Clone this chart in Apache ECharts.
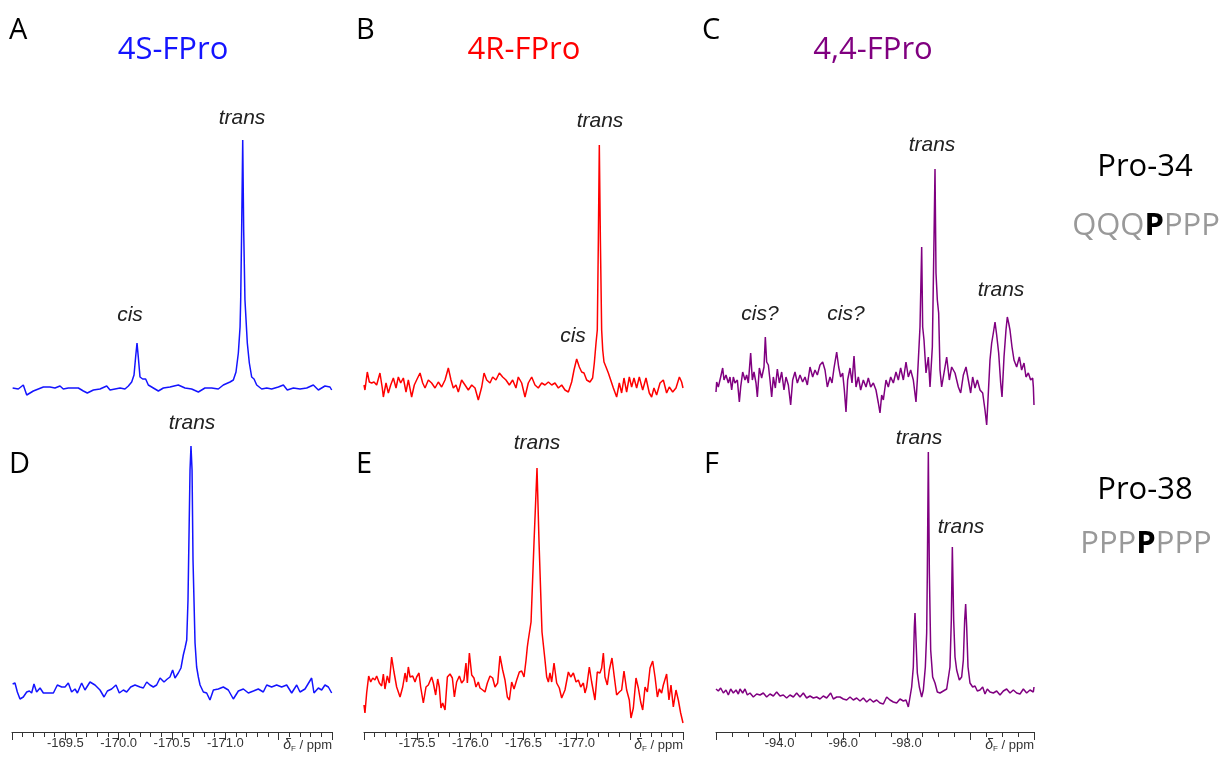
<!DOCTYPE html>
<html><head><meta charset="utf-8">
<script src="https://cdn.jsdelivr.net/npm/echarts@6/dist/echarts.min.js"></script>
<style>html,body{margin:0;padding:0;background:#fff}#c{width:1222px;height:758px}</style>
</head><body><div id="c"></div>
<script>
// ---- data: [chemical shift (ppm), intensity (arb. units)] ----
const specA = [[-169.006,2],[-169.059,1],[-169.106,5],[-169.138,-5],[-169.169,-3],[-169.2,-1],[-169.247,1],[-169.294,3],[-169.356,3],[-169.403,2],[-169.45,4],[-169.481,1],[-169.528,2],[-169.575,2],[-169.622,2],[-169.669,-1],[-169.706,-3],[-169.763,0],[-169.825,1],[-169.888,4],[-169.919,0],[-169.966,1],[-170.013,2],[-170.059,1],[-170.091,4],[-170.122,8],[-170.144,15],[-170.159,33],[-170.172,47],[-170.184,33],[-170.2,13],[-170.225,11],[-170.253,11],[-170.278,5],[-170.325,2],[-170.372,-1],[-170.419,2],[-170.481,3],[-170.559,5],[-170.622,2],[-170.684,1],[-170.747,-2],[-170.809,2],[-170.872,2],[-170.934,1],[-170.981,5],[-171.044,8],[-171.075,10],[-171.1,18],[-171.122,37],[-171.138,63],[-171.144,90],[-171.153,160],[-171.163,250],[-171.172,160],[-171.184,90],[-171.206,47],[-171.225,27],[-171.247,13],[-171.269,11],[-171.294,5],[-171.341,1],[-171.388,2],[-171.434,1],[-171.497,3],[-171.544,5],[-171.581,0],[-171.638,2],[-171.7,1],[-171.763,2],[-171.825,5],[-171.872,0],[-171.934,4],[-171.981,3],[-171.997,0]];
const specB = [[-175.0,5],[-175.009,0],[-175.031,18],[-175.05,8],[-175.072,7],[-175.094,8],[-175.119,5],[-175.15,17],[-175.172,2],[-175.182,-7],[-175.207,7],[-175.229,-3],[-175.251,5],[-175.276,12],[-175.301,2],[-175.323,13],[-175.345,7],[-175.37,12],[-175.395,-2],[-175.417,10],[-175.448,-7],[-175.473,5],[-175.495,10],[-175.527,17],[-175.552,7],[-175.574,2],[-175.605,10],[-175.636,7],[-175.668,2],[-175.699,8],[-175.73,3],[-175.762,10],[-175.793,22],[-175.818,10],[-175.84,2],[-175.865,5],[-175.887,-2],[-175.918,10],[-175.95,5],[-175.981,0],[-176.013,5],[-176.044,2],[-176.075,-10],[-176.107,3],[-176.129,17],[-176.154,10],[-176.185,7],[-176.21,13],[-176.241,10],[-176.273,17],[-176.304,13],[-176.335,10],[-176.367,5],[-176.398,10],[-176.429,2],[-176.451,13],[-176.483,7],[-176.514,-7],[-176.545,7],[-176.577,13],[-176.608,5],[-176.639,2],[-176.671,7],[-176.702,5],[-176.734,8],[-176.765,5],[-176.796,7],[-176.828,2],[-176.859,5],[-176.89,0],[-176.922,-2],[-176.953,8],[-176.975,20],[-177.0,31],[-177.025,23],[-177.047,18],[-177.069,17],[-177.094,10],[-177.125,8],[-177.15,12],[-177.166,27],[-177.182,47],[-177.194,60],[-177.204,150],[-177.213,245],[-177.223,150],[-177.235,60],[-177.245,40],[-177.257,28],[-177.276,23],[-177.298,17],[-177.32,10],[-177.345,2],[-177.376,-7],[-177.401,7],[-177.423,-3],[-177.445,12],[-177.47,-2],[-177.495,13],[-177.517,3],[-177.539,12],[-177.564,2],[-177.589,13],[-177.621,0],[-177.652,12],[-177.683,-3],[-177.705,-7],[-177.727,2],[-177.752,-5],[-177.784,7],[-177.815,10],[-177.846,-3],[-177.871,3],[-177.903,-2],[-177.934,2],[-177.966,13],[-177.987,8],[-178.0,2]];
const specC = [[-92.0,-2],[-92.021,8],[-92.073,3],[-92.147,13],[-92.21,22],[-92.252,10],[-92.314,15],[-92.388,7],[-92.44,13],[-92.493,0],[-92.545,13],[-92.597,7],[-92.671,10],[-92.734,-12],[-92.776,3],[-92.839,18],[-92.912,10],[-92.964,15],[-93.017,7],[-93.09,37],[-93.143,10],[-93.195,18],[-93.258,7],[-93.3,-7],[-93.363,22],[-93.436,12],[-93.509,23],[-93.551,53],[-93.593,28],[-93.646,25],[-93.698,10],[-93.751,-7],[-93.803,13],[-93.866,2],[-93.929,21],[-93.992,7],[-94.065,18],[-94.138,0],[-94.201,13],[-94.275,5],[-94.348,-15],[-94.411,10],[-94.484,18],[-94.558,7],[-94.642,15],[-94.725,8],[-94.799,13],[-94.872,5],[-94.956,23],[-95.04,13],[-95.113,20],[-95.187,15],[-95.27,25],[-95.354,28],[-95.428,20],[-95.501,3],[-95.585,13],[-95.648,7],[-95.711,22],[-95.795,38],[-95.857,23],[-95.92,13],[-95.983,17],[-96.036,0],[-96.088,-22],[-96.14,10],[-96.214,22],[-96.277,7],[-96.34,34],[-96.403,3],[-96.476,13],[-96.549,0],[-96.633,10],[-96.717,3],[-96.79,12],[-96.864,3],[-96.948,7],[-97.031,0],[-97.105,-13],[-97.157,-23],[-97.21,-5],[-97.262,-10],[-97.346,10],[-97.419,3],[-97.493,13],[-97.577,7],[-97.66,18],[-97.734,10],[-97.807,22],[-97.891,10],[-97.975,28],[-98.048,13],[-98.122,20],[-98.205,10],[-98.289,-12],[-98.331,10],[-98.363,30],[-98.415,63],[-98.468,143],[-98.499,63],[-98.541,50],[-98.604,17],[-98.677,33],[-98.73,3],[-98.803,43],[-98.855,150],[-98.887,221],[-98.918,117],[-98.96,90],[-99.002,77],[-99.044,20],[-99.096,3],[-99.17,17],[-99.254,33],[-99.338,10],[-99.411,23],[-99.516,17],[-99.621,3],[-99.694,-3],[-99.778,15],[-99.862,23],[-99.935,10],[-100.008,-3],[-100.071,13],[-100.145,2],[-100.218,10],[-100.302,0],[-100.386,-3],[-100.459,-20],[-100.512,-35],[-100.564,-3],[-100.616,30],[-100.669,47],[-100.721,57],[-100.774,68],[-100.826,55],[-100.889,37],[-100.952,7],[-100.994,-7],[-101.057,33],[-101.119,60],[-101.161,73],[-101.203,67],[-101.245,60],[-101.308,43],[-101.371,30],[-101.455,23],[-101.539,33],[-101.612,20],[-101.686,27],[-101.748,13],[-101.822,17],[-101.895,10],[-101.958,12],[-101.98,3],[-102.0,-15]];
const specD = [[-169.006,8],[-169.028,9],[-169.05,0],[-169.075,-7],[-169.106,-5],[-169.138,0],[-169.163,1],[-169.184,-1],[-169.206,8],[-169.231,0],[-169.263,4],[-169.294,-1],[-169.341,-1],[-169.388,-1],[-169.425,7],[-169.466,5],[-169.497,5],[-169.528,9],[-169.559,0],[-169.591,3],[-169.613,-1],[-169.653,9],[-169.684,2],[-169.731,10],[-169.778,7],[-169.825,2],[-169.863,-5],[-169.894,1],[-169.934,3],[-169.975,7],[-170.006,-1],[-170.044,2],[-170.075,0],[-170.113,5],[-170.153,7],[-170.2,5],[-170.231,4],[-170.263,10],[-170.294,7],[-170.325,5],[-170.356,7],[-170.388,14],[-170.425,10],[-170.456,13],[-170.481,15],[-170.506,22],[-170.528,14],[-170.559,19],[-170.584,24],[-170.606,37],[-170.622,44],[-170.638,52],[-170.65,92],[-170.669,222],[-170.678,246],[-170.688,222],[-170.697,132],[-170.716,49],[-170.731,25],[-170.747,15],[-170.763,7],[-170.794,0],[-170.825,-1],[-170.856,-8],[-170.888,2],[-170.934,3],[-170.981,5],[-171.028,2],[-171.075,-7],[-171.122,1],[-171.169,3],[-171.216,-1],[-171.263,1],[-171.309,3],[-171.356,0],[-171.388,7],[-171.434,5],[-171.481,7],[-171.528,5],[-171.575,7],[-171.622,-1],[-171.669,7],[-171.7,0],[-171.747,3],[-171.809,14],[-171.831,-1],[-171.872,4],[-171.903,2],[-171.934,7],[-171.966,5],[-171.997,-1]];
const specE = [[-175.0,-13],[-175.009,-21],[-175.025,-1],[-175.044,16],[-175.063,10],[-175.082,14],[-175.103,12],[-175.119,16],[-175.144,9],[-175.166,6],[-175.182,18],[-175.197,3],[-175.219,16],[-175.238,9],[-175.26,35],[-175.282,20],[-175.307,5],[-175.339,-5],[-175.364,5],[-175.386,19],[-175.401,10],[-175.417,25],[-175.433,15],[-175.458,16],[-175.48,10],[-175.495,15],[-175.517,19],[-175.533,5],[-175.558,-11],[-175.583,5],[-175.605,7],[-175.636,15],[-175.652,9],[-175.674,-3],[-175.693,13],[-175.708,5],[-175.724,-16],[-175.74,-11],[-175.762,-18],[-175.784,15],[-175.809,18],[-175.831,14],[-175.85,-5],[-175.871,10],[-175.897,16],[-175.918,9],[-175.94,12],[-175.959,29],[-175.972,9],[-175.991,39],[-176.013,17],[-176.034,14],[-176.053,5],[-176.075,10],[-176.091,4],[-176.116,2],[-176.138,0],[-176.16,9],[-176.185,16],[-176.21,14],[-176.232,5],[-176.257,9],[-176.279,36],[-176.304,22],[-176.326,12],[-176.348,-5],[-176.367,-8],[-176.389,10],[-176.411,3],[-176.436,12],[-176.461,20],[-176.483,21],[-176.505,15],[-176.524,32],[-176.536,45],[-176.545,52],[-176.571,70],[-176.599,150],[-176.627,224],[-176.646,150],[-176.674,60],[-176.687,47],[-176.702,32],[-176.718,15],[-176.734,10],[-176.749,19],[-176.765,10],[-176.787,29],[-176.812,9],[-176.837,4],[-176.859,-6],[-176.89,2],[-176.922,20],[-176.944,15],[-176.969,19],[-176.994,10],[-177.016,12],[-177.038,5],[-177.063,9],[-177.078,-1],[-177.094,5],[-177.119,25],[-177.141,10],[-177.172,-8],[-177.194,20],[-177.219,19],[-177.235,24],[-177.251,39],[-177.266,15],[-177.288,7],[-177.307,22],[-177.332,34],[-177.354,15],[-177.376,-3],[-177.401,0],[-177.423,2],[-177.445,21],[-177.47,2],[-177.495,-8],[-177.511,-26],[-177.533,-16],[-177.558,14],[-177.58,4],[-177.602,-10],[-177.621,-18],[-177.643,5],[-177.665,0],[-177.69,24],[-177.715,31],[-177.737,15],[-177.759,-5],[-177.777,3],[-177.799,-1],[-177.815,7],[-177.846,18],[-177.868,-8],[-177.887,7],[-177.909,-15],[-177.934,2],[-177.956,-8],[-177.978,-21],[-178.0,-31]];
const specF = [[-92.0,3],[-92.073,1],[-92.147,4],[-92.231,-1],[-92.314,2],[-92.388,-3],[-92.461,3],[-92.545,-1],[-92.629,2],[-92.702,-2],[-92.755,3],[-92.839,-1],[-92.912,3],[-92.985,-3],[-93.069,-1],[-93.174,-5],[-93.279,-2],[-93.384,-3],[-93.488,-1],[-93.593,-5],[-93.698,-2],[-93.803,-4],[-93.908,0],[-94.013,-4],[-94.117,-3],[-94.222,-6],[-94.327,-3],[-94.432,-5],[-94.537,-1],[-94.642,-5],[-94.746,-1],[-94.851,-6],[-94.956,-4],[-95.061,-6],[-95.166,-5],[-95.27,-7],[-95.375,-4],[-95.48,-6],[-95.606,-1],[-95.69,-7],[-95.795,-5],[-95.899,-5],[-96.004,-7],[-96.109,-8],[-96.214,-5],[-96.319,-8],[-96.423,-6],[-96.528,-9],[-96.633,-6],[-96.738,-10],[-96.843,-7],[-96.948,-10],[-97.052,-8],[-97.157,-11],[-97.262,-12],[-97.367,-5],[-97.472,-8],[-97.577,-10],[-97.681,-11],[-97.786,-7],[-97.891,-9],[-97.975,-8],[-98.048,-15],[-98.101,-5],[-98.153,5],[-98.205,25],[-98.237,65],[-98.258,79],[-98.289,52],[-98.331,19],[-98.394,5],[-98.468,-5],[-98.52,2],[-98.583,25],[-98.625,59],[-98.646,120],[-98.677,240],[-98.709,120],[-98.751,42],[-98.813,15],[-98.887,9],[-98.96,0],[-99.044,-1],[-99.149,1],[-99.254,3],[-99.306,5],[-99.358,25],[-99.4,72],[-99.432,145],[-99.474,72],[-99.516,35],[-99.568,22],[-99.652,12],[-99.725,15],[-99.778,32],[-99.82,72],[-99.851,88],[-99.883,65],[-99.925,25],[-99.987,9],[-100.071,5],[-100.145,6],[-100.218,1],[-100.302,2],[-100.386,5],[-100.459,-2],[-100.532,3],[-100.616,0],[-100.721,-1],[-100.826,1],[-100.931,-3],[-101.036,1],[-101.14,3],[-101.245,-1],[-101.35,2],[-101.455,-1],[-101.56,-2],[-101.665,3],[-101.769,-1],[-101.874,2],[-101.979,0],[-102.0,5]];

// axis ranges [min, max] in ppm (drawn high-field to the right)
const rangeAD = [-172, -169];
const rangeBE = [-178, -175];
const rangeCF = [-102, -92];
const ticksAD = [-169.5, -170.0, -170.5, -171.0];
const ticksBE = [-175.5, -176.0, -176.5, -177.0];
const ticksCF = [-94.0, -96.0, -98.0];
const titles = ['4S-FPro', '4R-FPro', '4,4-FPro'];
const panelLetters = ['A', 'B', 'C', 'D', 'E', 'F'];
const rowLabels = ['Pro-34', 'Pro-38'];

const BLUE = '#1414ff', RED = '#ff0000', PURPLE = '#800080';
const colors = [BLUE, RED, PURPLE];
const cols = [{left: 12, width: 320}, {left: 364, width: 319}, {left: 716, width: 318}];
const ranges = [rangeAD, rangeBE, rangeCF];
const tickSets = [ticksAD, ticksBE, ticksCF];
const intervals = [0.5, 0.5, 2];
const minorSplits = [5, 5, 4];
const specs = [specA, specB, specC, specD, specE, specF];

const grids = [], xAxes = [], yAxes = [], series = [];
for (let i = 0; i < 6; i++) {
  const c = i % 3, bottom = i >= 3;
  grids.push(bottom ? {left: cols[c].left, width: cols[c].width, top: 432, height: 300}
                    : {left: cols[c].left, width: cols[c].width, top: 80, height: 350});
  const labs = tickSets[c];
  xAxes.push({
    gridIndex: i, type: 'value', min: ranges[c][0], max: ranges[c][1], inverse: true,
    interval: intervals[c], position: 'bottom', show: bottom,
    axisLine: {show: true, onZero: false, lineStyle: {color: '#333', width: 1}},
    axisTick: {show: true, length: 8, lineStyle: {color: '#333', width: 1}},
    minorTick: {show: true, splitNumber: minorSplits[c], length: 5, lineStyle: {color: '#333', width: 1}},
    splitLine: {show: false}, minorSplitLine: {show: false},
    axisLabel: {
      show: true, margin: 5, fontSize: 13, fontFamily: 'Liberation Sans', color: '#333',
      showMinLabel: true, showMaxLabel: true, hideOverlap: false,
      formatter: v => labs.some(l => Math.abs(l - v) < 1e-6) ? v.toFixed(1) : ''
    }
  });
  yAxes.push({gridIndex: i, type: 'value', show: false,
    min: -40, max: bottom ? 260 : 310});
  series.push({
    type: 'line', xAxisIndex: i, yAxisIndex: i, data: specs[i],
    showSymbol: false, symbol: 'none', silent: true, clip: true,
    lineStyle: {width: 1.5, color: colors[c]}, itemStyle: {color: colors[c]}
  });
}

const graphic = [];
const letterPos = [[9, 31], [356, 31], [702, 31], [9, 465], [356, 465], [704, 465]];
panelLetters.forEach((t, i) => graphic.push({type: 'text', x: letterPos[i][0], y: letterPos[i][1],
  style: {text: t, fontSize: 29, fontFamily: 'Open Sans', fill: '#000', align: 'left', verticalAlign: 'middle'}}));
const titleX = [173, 524, 873];
titles.forEach((t, i) => graphic.push({type: 'text', x: titleX[i], y: 50,
  style: {text: t, fontSize: 31, fontFamily: 'Open Sans', fill: colors[i], align: 'center', verticalAlign: 'middle'}}));
graphic.push({type: 'text', x: 1145, y: 167, style: {text: rowLabels[0], fontSize: 31, fontFamily: 'Open Sans', fill: '#000', align: 'center', verticalAlign: 'middle'}});
graphic.push({type: 'text', x: 1145, y: 490, style: {text: rowLabels[1], fontSize: 31, fontFamily: 'Open Sans', fill: '#000', align: 'center', verticalAlign: 'middle'}});
const seqRich = {g: {fontSize: 31, fontFamily: 'Open Sans', fill: '#999', color: '#999'}, b: {fontSize: 31, fontFamily: 'Open Sans', fontWeight: 'bold', fill: '#000', color: '#000'}};
graphic.push({type: 'text', x: 1146, y: 226, style: {text: '{g|QQQ}{b|P}{g|PPP}', rich: seqRich, align: 'center', verticalAlign: 'middle'}});
graphic.push({type: 'text', x: 1146, y: 544, style: {text: '{g|PPP}{b|P}{g|PPP}', rich: seqRich, align: 'center', verticalAlign: 'middle'}});

const annots = [['trans', 242, 118], ['cis', 130, 315], ['trans', 600, 121], ['cis', 573, 336],
  ['cis?', 760, 314], ['cis?', 846, 314], ['trans', 932, 145], ['trans', 1001, 290],
  ['trans', 192, 423], ['trans', 537, 443], ['trans', 919, 438], ['trans', 961, 527]];
annots.forEach(a => graphic.push({type: 'text', x: a[1], y: a[2],
  style: {text: a[0], fontSize: 21, fontStyle: 'italic', fontFamily: 'Liberation Sans', fill: '#222', align: 'center', verticalAlign: 'middle'}}));

const unitRich = {
  d: {fontSize: 14, fontStyle: 'italic', fontFamily: 'Liberation Sans', fill: '#333', color: '#333'},
  s: {fontSize: 8, fontFamily: 'Liberation Sans', fill: '#333', color: '#333', padding: [7, 0, 0, 0]},
  p: {fontSize: 13, fontFamily: 'Liberation Sans', fill: '#333', color: '#333'}
};
[332, 683, 1034].forEach(xr => graphic.push({type: 'text', x: xr, y: 745,
  style: {text: '{d|δ}{s|F}{p| / ppm}', rich: unitRich, align: 'right', verticalAlign: 'middle'}}));

const chart = echarts.init(document.getElementById('c'));
chart.setOption({animation: false, backgroundColor: '#fff', grid: grids, xAxis: xAxes, yAxis: yAxes, series, graphic});
</script></body></html>
